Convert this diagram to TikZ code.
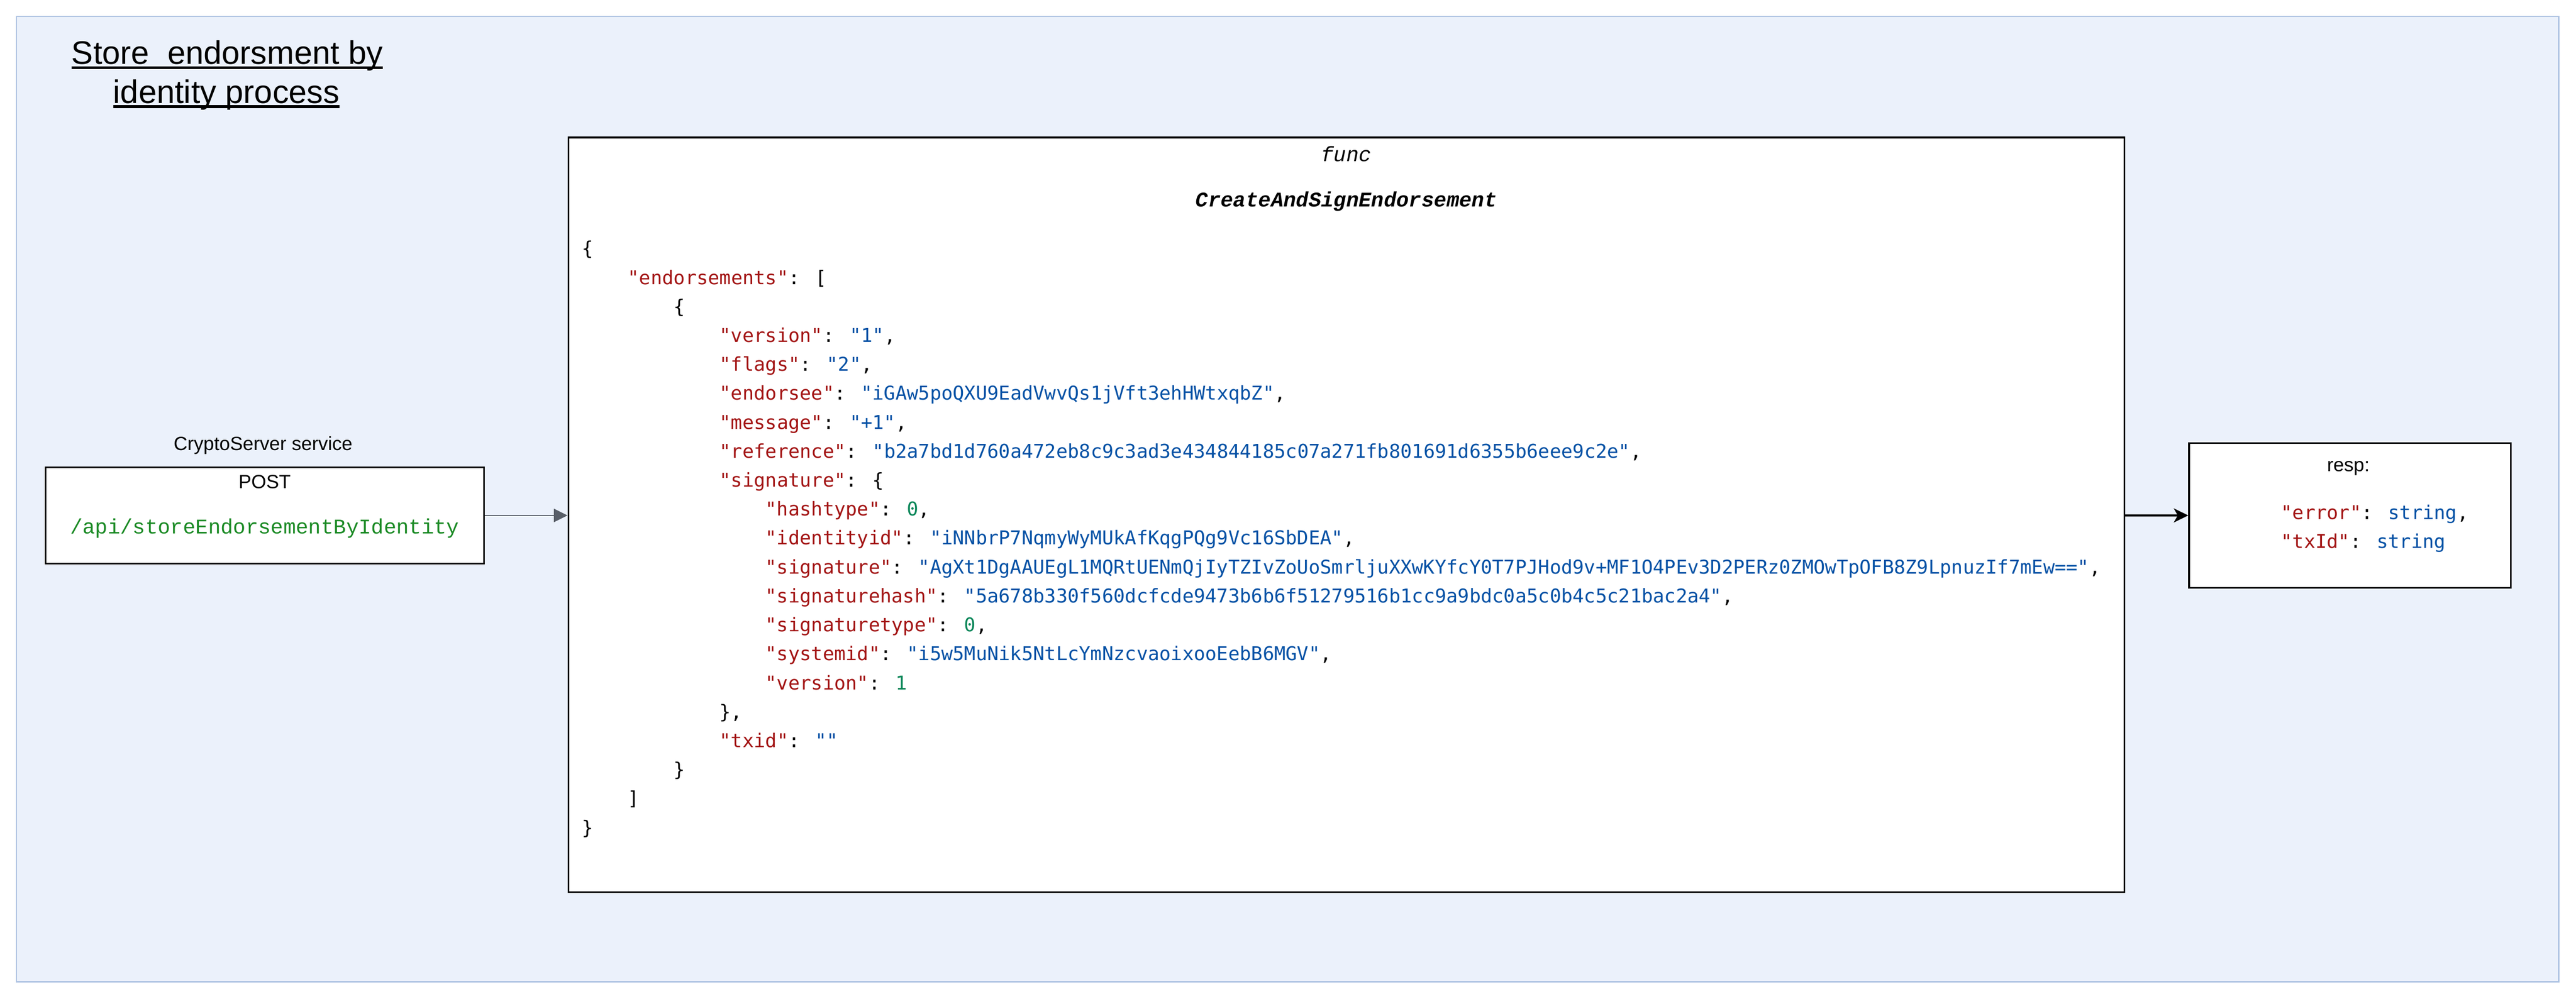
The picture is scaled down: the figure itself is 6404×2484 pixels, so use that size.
\documentclass[tikz,border=0pt]{standalone}
\usepackage{fontspec}
\setmainfont{Liberation Sans}
\newfontfamily\jsonfont{DejaVu Sans Mono}
\newfontfamily\courfont{Liberation Mono}
\usetikzlibrary{arrows.meta}
\definecolor{contfill}{HTML}{EBF1FB}
\definecolor{contline}{HTML}{AEC3E2}
\definecolor{jkey}{HTML}{A31515}
\definecolor{jstr}{HTML}{0451A5}
\definecolor{jnum}{HTML}{098658}
\definecolor{apigreen}{HTML}{1A8A24}
\definecolor{arrowgray}{HTML}{585E68}
\newcommand\K[1]{\textcolor{jkey}{"#1"}: }
\newcommand\Sv[1]{\textcolor{jstr}{"#1"}}
\newcommand\Nv[1]{\textcolor{jnum}{#1}}
\newcommand\ulx[1]{\setbox0\hbox{#1}\rlap{\rule[-0.14em]{\wd0}{0.08em}}\box0}
\newcommand\jl[3]{\node[jsontext] (j#1) at ({1446+#2*114},{635+#1*72}) {#3};}
\begin{document}
\begin{tikzpicture}[x=0.25pt,y=-0.25pt,
  container/.style={draw=contline, fill=contfill, line width=0.75pt, inner sep=0},
  whitebox/.style={draw=black, fill=white, line width=1pt, inner sep=0},
  labeltext/.style={inner sep=0, anchor=base, font=\fontsize{11.9pt}{14pt}\selectfont},
  titletext/.style={inner sep=0, anchor=base, font=\fontsize{20.25pt}{24pt}\selectfont},
  jsontext/.style={inner sep=0, anchor=base west, font=\jsonfont\fontsize{11.85pt}{14pt}\selectfont},
  functext/.style={inner sep=0, anchor=base, font=\courfont\fontsize{13pt}{15pt}\selectfont},
  apitext/.style={inner sep=0, anchor=base, text=apigreen, font=\courfont\fontsize{13pt}{16pt}\selectfont}
]
\useasboundingbox (0,0) rectangle (6404,2484);
\node[container, minimum width=1580pt, minimum height=600.25pt] (cont) at (3201,1241.5) {};

% title
\node[titletext] (title1) at (565,160) {\ulx{Store\ \ endorsment by}};
\node[titletext] (title2) at (563,257) {\ulx{identity process}};

% POST box
\node[labeltext] (svc) at (654,1120) {CryptoServer service};
\node[whitebox, minimum width=272.5pt, minimum height=60pt] (post) at (658,1282) {};
\node[labeltext] (postlbl) at (658,1215) {POST};
\node[apitext] (api) at (658,1328) {/api/storeEndorsementByIdentity};

% func box
\node[whitebox, minimum width=967pt, minimum height=469.25pt] (func) at (3347,1280.5) {};
\node[functext] (funckw) at (3347,402) {\itshape func};
\node[functext] (funcname) at (3347,514) {\bfseries\itshape CreateAndSignEndorsement};

\jl{0}{0}{\{}
\jl{1}{1}{\K{endorsements}[}
\jl{2}{2}{\{}
\jl{3}{3}{\K{version}\Sv{1},}
\jl{4}{3}{\K{flags}\Sv{2},}
\jl{5}{3}{\K{endorsee}\Sv{iGAw5poQXU9EadVwvQs1jVft3ehHWtxqbZ},}
\jl{6}{3}{\K{message}\Sv{+1},}
\jl{7}{3}{\K{reference}\Sv{b2a7bd1d760a472eb8c9c3ad3e434844185c07a271fb801691d6355b6eee9c2e},}
\jl{8}{3}{\K{signature}\{}
\jl{9}{4}{\K{hashtype}\Nv{0},}
\jl{10}{4}{\K{identityid}\Sv{iNNbrP7NqmyWyMUkAfKqgPQg9Vc16SbDEA},}
\jl{11}{4}{\K{signature}\Sv{AgXt1DgAAUEgL1MQRtUENmQjIyTZIvZoUoSmrljuXXwKYfcY0T7PJHod9v+MF1O4PEv3D2PERz0ZMOwTpOFB8Z9LpnuzIf7mEw==},}
\jl{12}{4}{\K{signaturehash}\Sv{5a678b330f560dcfcde9473b6b6f51279516b1cc9a9bdc0a5c0b4c5c21bac2a4},}
\jl{13}{4}{\K{signaturetype}\Nv{0},}
\jl{14}{4}{\K{systemid}\Sv{i5w5MuNik5NtLcYmNzcvaoixooEebB6MGV},}
\jl{15}{4}{\K{version}\Nv{1}}
\jl{16}{3}{\},}
\jl{17}{3}{\K{txid}\Sv{}}
\jl{18}{2}{\}}
\jl{19}{1}{]}
\jl{20}{0}{\}}

% resp box
\node[whitebox, minimum width=200pt, minimum height=90pt] (resp) at (5842,1282) {};
\node[labeltext] (resplbl) at (5838,1172) {resp:};
\node[jsontext] (r1) at (5670,1292) {\K{error}\textcolor{jstr}{string},};
\node[jsontext] (r2) at (5670,1363) {\K{txId}\textcolor{jstr}{string}};

% connectors
\draw[arrowgray, line width=0.85pt, -{Triangle[length=8.5pt,width=8.25pt]}] (post.east) -- (post.east -| func.west);
\draw[black, line width=1pt, -{Stealth[length=9pt,width=8.75pt,inset=2.5pt]}] (func.east |- resp.west) -- (resp.west);
\end{tikzpicture}
\end{document}
